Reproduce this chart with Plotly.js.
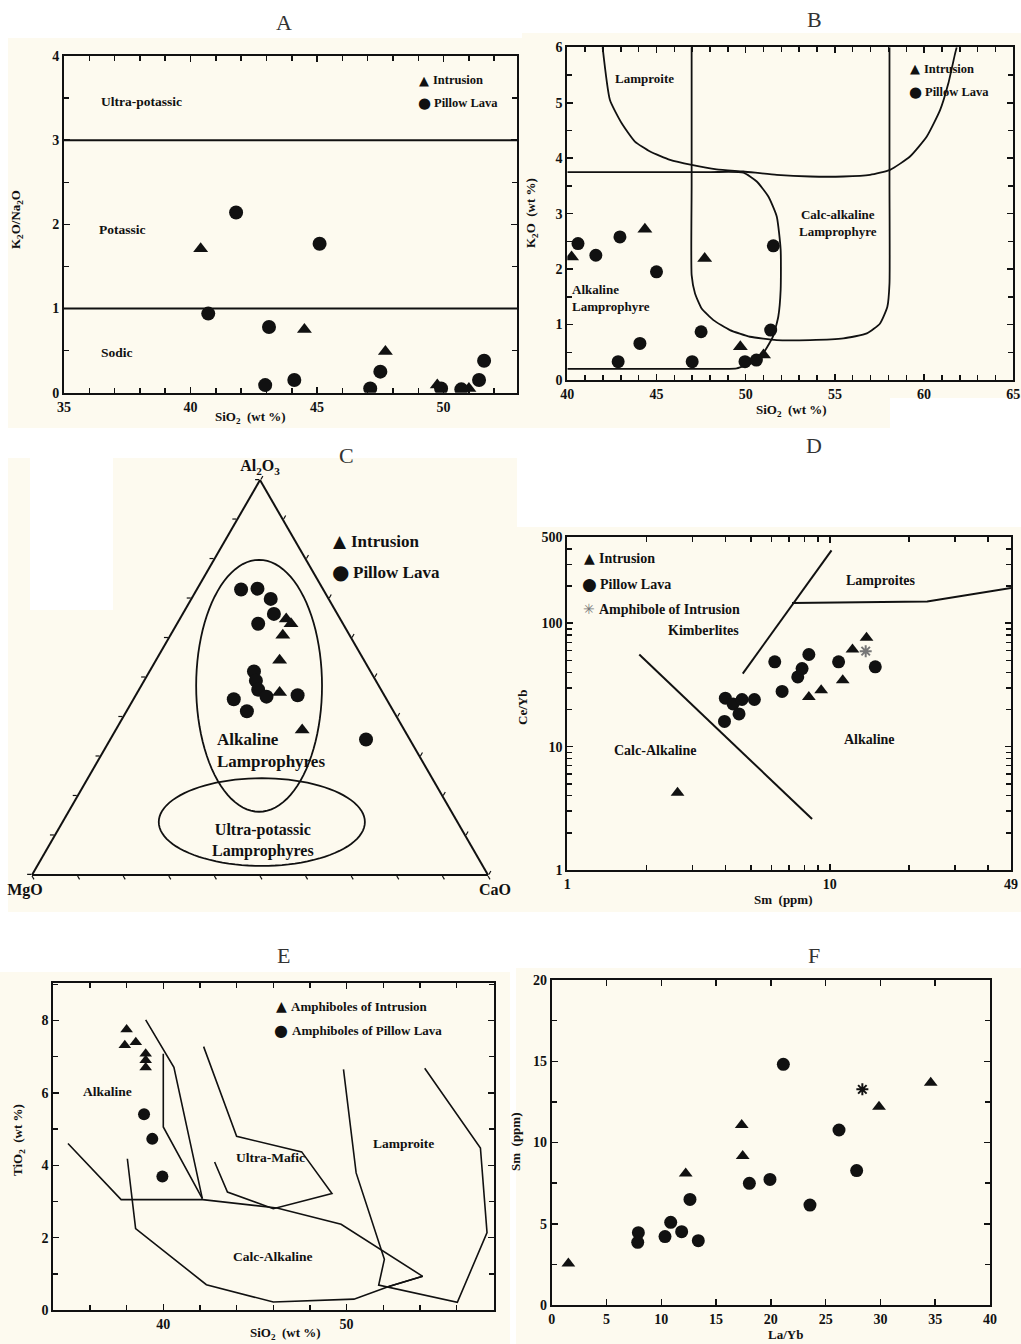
<!DOCTYPE html>
<html><head><meta charset="utf-8">
<script src="https://cdn.plot.ly/plotly-3.0.1.min.js"></script>
<style>html,body{margin:0;padding:0;background:#fff}#chart{width:1021px;height:1344px}</style>
</head><body><div id="chart"></div>
<script>
// ================= DATA =================
// Panel A : K2O/Na2O vs SiO2
const aIntrusionSiO2 = [40.4, 44.5, 47.7, 49.75, 51.0];
const aIntrusionRatio = [1.71, 0.75, 0.49, 0.09, 0.05];
const aLavaSiO2 = [41.8, 40.7, 45.1, 43.1, 42.95, 44.1, 47.1, 47.5, 49.9, 50.7, 51.4, 51.6];
const aLavaRatio = [2.14, 0.94, 1.77, 0.78, 0.09, 0.15, 0.05, 0.25, 0.05, 0.04, 0.15, 0.38];
const aBoundaryRatio = [1, 3];

// Panel B : K2O vs SiO2
const bIntrusionSiO2 = [40.24, 44.35, 47.7, 49.7, 51.0];
const bIntrusionK2O = [2.22, 2.72, 2.19, 0.6, 0.45];
const bLavaSiO2 = [40.6, 41.6, 42.95, 45.0, 42.85, 44.07, 47.0, 47.5, 49.96, 50.6, 51.55, 51.4];
const bLavaK2O = [2.46, 2.25, 2.58, 1.95, 0.33, 0.66, 0.33, 0.87, 0.33, 0.36, 2.42, 0.9];
const bLamproiteSiO2 = [41.98, 42.39, 43.05, 43.79, 44.64, 45.76, 46.97, 48.37, 49.87, 51.74, 53.61, 55.48, 56.97, 58.09, 59.21, 60.15, 60.9, 61.36, 61.74, 61.83];
const bLamproiteK2O = [6.0, 5.05, 4.63, 4.3, 4.12, 3.97, 3.88, 3.8, 3.76, 3.7, 3.67, 3.67, 3.7, 3.79, 4.03, 4.39, 4.87, 5.35, 5.89, 6.0];
const bAlkalineSiO2 = [40.0, 48.0, 49.87, 50.62, 51.27, 51.74, 51.96, 51.96, 51.83, 51.55, 51.08, 50.43, 49.5, 48.75, 40.0];
const bAlkalineK2O = [3.75, 3.75, 3.74, 3.58, 3.31, 2.95, 2.35, 1.63, 1.15, 0.8, 0.53, 0.32, 0.21, 0.2, 0.2];
const bCalcAlkSiO2 = [46.97, 46.97, 46.97, 47.16, 47.53, 48.19, 49.12, 50.24, 51.74, 53.61, 55.48, 56.79, 57.53, 57.94, 58.06, 58.06, 58.06];
const bCalcAlkK2O = [6.0, 3.5, 1.89, 1.56, 1.29, 1.08, 0.9, 0.78, 0.72, 0.72, 0.75, 0.84, 1.02, 1.32, 1.74, 3.5, 6.0];

// Panel C : Al2O3 - MgO - CaO ternary (fractions)
const cIntrusionAl2O3 = [0.648, 0.636, 0.607, 0.544, 0.462, 0.367];
const cIntrusionMgO   = [0.1185, 0.114, 0.1465, 0.185, 0.226, 0.224];
const cIntrusionCaO   = [0.2335, 0.25, 0.2465, 0.271, 0.312, 0.409];
const cLavaAl2O3 = [0.723, 0.725, 0.699, 0.661, 0.636, 0.5155, 0.492, 0.469, 0.4515, 0.455, 0.445, 0.4145, 0.343];
const cLavaMgO   = [0.18, 0.143, 0.127, 0.139, 0.186, 0.2555, 0.263, 0.2695, 0.26, 0.19, 0.335, 0.3215, 0.096];
const cLavaCaO   = [0.097, 0.132, 0.174, 0.2, 0.178, 0.229, 0.245, 0.2615, 0.2885, 0.355, 0.22, 0.264, 0.561];
// field ellipses: [centre across, centre Al2O3, radius across, radius Al2O3]
const cAlkalineField = [0.498, 0.479, 0.138, 0.319];
const cUltraPotassicField = [0.504, 0.134, 0.226, 0.111];

// Panel D : Ce/Yb vs Sm (log-log)
const dIntrusionSm = [2.63, 8.32, 9.27, 11.2, 12.2, 13.8];
const dIntrusionCeYb = [4.23, 25.2, 28.6, 34.5, 61.4, 76.4];
const dLavaSm = [3.97, 4.0, 4.28, 4.51, 4.63, 5.16, 6.17, 6.58, 7.55, 7.84, 8.32, 10.8, 14.9];
const dLavaCeYb = [16.0, 24.7, 22.2, 18.4, 24.1, 24.1, 48.7, 28.0, 36.7, 42.9, 55.8, 48.7, 44.3];
const dAmphSm = [13.7];
const dAmphCeYb = [59.4];
const dCalcAlkSm = [1.88, 8.56];
const dCalcAlkCeYb = [55.8, 2.59];
const dKimberliteSm = [4.66, 10.15];
const dKimberliteCeYb = [39.1, 389];
const dLamproiteSm = [7.18, 23.5, 49];
const dLamproiteCeYb = [145.6, 150, 193];
const dXMajorTicks = [1, 10, 49];
const dXMinorTicks = [2, 3, 4, 5, 6, 7, 8, 9, 20, 30, 40];
const dYMajorTicks = [1, 10, 100, 500];
const dYMinorTicks = [2, 3, 4, 5, 6, 7, 8, 9, 20, 30, 40, 50, 60, 70, 80, 90, 200, 300, 400];

// Panel E : TiO2 vs SiO2 (amphiboles)
const eIntrusionSiO2 = [38.0, 37.9, 38.5, 39.04, 39.04, 39.04];
const eIntrusionTiO2 = [7.75, 7.32, 7.4, 7.08, 6.9, 6.7];
const eLavaSiO2 = [38.95, 39.4, 39.95];
const eLavaTiO2 = [5.41, 4.73, 3.69];
const eAlkBoundSiO2 = [34.8, 37.7, 42.15, 46.2, 49.7, 51.8, 54.15, 52.3];
const eAlkBoundTiO2 = [4.6, 3.05, 3.05, 2.82, 2.37, 1.68, 0.93, 0.65];
const eUltraMaficSiO2 = [42.2, 44.0, 47.55, 49.2, 46.0, 43.5, 42.8];
const eUltraMaficTiO2 = [7.28, 4.8, 4.37, 3.22, 2.8, 3.26, 4.09];
const eCalcAlkSiO2 = [38.04, 38.49, 42.35, 46.0, 50.4, 52.3, 54.15];
const eCalcAlkTiO2 = [4.18, 2.25, 0.7, 0.22, 0.3, 0.65, 0.93];
const eLamproiteSiO2 = [49.83, 50.52, 52.06, 51.75, 56.04, 57.66, 57.3, 54.26];
const eLamproiteTiO2 = [6.65, 3.79, 1.4, 0.69, 0.21, 2.14, 4.48, 6.68];
const eLineOneSiO2 = [39.04, 39.95, 40.58, 42.13];
const eLineOneTiO2 = [8.02, 7.25, 6.71, 3.08];
const eLineTwoSiO2 = [40.0, 40.0, 42.13];
const eLineTwoTiO2 = [7.08, 5.06, 3.08];

// Panel F : Sm vs La/Yb
const fIntrusionLaYb = [1.52, 12.23, 17.34, 17.43, 29.87, 34.59];
const fIntrusionSm = [2.56, 8.1, 11.08, 9.17, 12.2, 13.68];
const fLavaLaYb = [7.91, 7.85, 10.34, 10.86, 11.86, 13.38, 12.62, 18.04, 19.92, 21.14, 23.57, 26.22, 27.83];
const fLavaSm = [4.45, 3.86, 4.21, 5.09, 4.51, 3.96, 6.5, 7.49, 7.73, 14.81, 6.15, 10.77, 8.27];
const fAmphLaYb = [28.35];
const fAmphSm = [13.27];

// ================= STYLE / LAYOUT =================
const W = 1021, H = 1344;
const ink = '#111';
const cream = '#fdfaef';
const serif = 'Liberation Serif, Times New Roman, serif';
const symFont = 'DejaVu Sans, sans-serif';
const px = v => v / W;
const py = v => 1 - v / H;

function pts(x, y, xa, ya, symbol, size, color) {
  const m = {symbol: symbol, size: size, color: color || ink, line: {width: 0}};
  if (symbol.indexOf('open') >= 0) m.line = {width: 2, color: color || ink};
  return {type: 'scatter', mode: 'markers', x: x, y: y, xaxis: xa, yaxis: ya, marker: m, hoverinfo: 'x+y'};
}
function line(x, y, xa, ya, w, shape) {
  return {type: 'scatter', mode: 'lines', x: x, y: y, xaxis: xa, yaxis: ya,
          line: {color: ink, width: w || 1.8, shape: shape || 'linear', smoothing: 0.5}, hoverinfo: 'skip'};
}
function ellipse(p) {
  const a = [], b = [], c = [];
  for (let i = 0; i <= 96; i++) {
    const t = 2 * Math.PI * i / 96;
    const u = p[0] + p[2] * Math.cos(t), av = p[1] + p[3] * Math.sin(t);
    const cv = u - av / 2;
    a.push(av); c.push(cv); b.push(1 - av - cv);
  }
  return {type: 'scatterternary', mode: 'lines', a: a, b: b, c: c, subplot: 'ternary',
          line: {color: ink, width: 1.8}, hoverinfo: 'skip'};
}

const traces = [
  // A
  pts(aIntrusionSiO2, aIntrusionRatio, 'x', 'y', 'triangle-up', 13),
  pts(aLavaSiO2, aLavaRatio, 'x', 'y', 'circle', 14),
  // B
  line(bLamproiteSiO2, bLamproiteK2O, 'x2', 'y2', 1.8, 'spline'),
  line(bAlkalineSiO2, bAlkalineK2O, 'x2', 'y2', 1.8, 'spline'),
  line(bCalcAlkSiO2, bCalcAlkK2O, 'x2', 'y2', 1.8, 'spline'),
  pts(bIntrusionSiO2, bIntrusionK2O, 'x2', 'y2', 'triangle-up', 13),
  pts(bLavaSiO2, bLavaK2O, 'x2', 'y2', 'circle', 13),
  // C
  ellipse(cAlkalineField),
  ellipse(cUltraPotassicField),
  {type: 'scatterternary', mode: 'markers', subplot: 'ternary', a: cLavaAl2O3, b: cLavaMgO, c: cLavaCaO,
   marker: {symbol: 'circle', size: 14, color: ink}},
  {type: 'scatterternary', mode: 'markers', subplot: 'ternary', a: cIntrusionAl2O3, b: cIntrusionMgO, c: cIntrusionCaO,
   marker: {symbol: 'triangle-up', size: 13, color: ink}},
  // D
  line(dCalcAlkSm, dCalcAlkCeYb, 'x3', 'y3', 2),
  line(dKimberliteSm, dKimberliteCeYb, 'x3', 'y3', 2),
  line(dLamproiteSm, dLamproiteCeYb, 'x3', 'y3', 2),
  pts(dIntrusionSm, dIntrusionCeYb, 'x3', 'y3', 'triangle-up', 12),
  pts(dLavaSm, dLavaCeYb, 'x3', 'y3', 'circle', 13),
  pts(dAmphSm, dAmphCeYb, 'x3', 'y3', 'asterisk-open', 10, '#777'),
  // E
  line(eAlkBoundSiO2, eAlkBoundTiO2, 'x4', 'y4', 1.6),
  line(eUltraMaficSiO2, eUltraMaficTiO2, 'x4', 'y4', 1.6),
  line(eCalcAlkSiO2, eCalcAlkTiO2, 'x4', 'y4', 1.6),
  line(eLamproiteSiO2, eLamproiteTiO2, 'x4', 'y4', 1.6),
  line(eLineOneSiO2, eLineOneTiO2, 'x4', 'y4', 1.6),
  line(eLineTwoSiO2, eLineTwoTiO2, 'x4', 'y4', 1.6),
  pts(eIntrusionSiO2, eIntrusionTiO2, 'x4', 'y4', 'triangle-up', 11),
  pts(eLavaSiO2, eLavaTiO2, 'x4', 'y4', 'circle', 12),
  // F
  pts(fIntrusionLaYb, fIntrusionSm, 'x5', 'y5', 'triangle-up', 12),
  pts(fLavaLaYb, fLavaSm, 'x5', 'y5', 'circle', 13),
  pts(fAmphLaYb, fAmphSm, 'x5', 'y5', 'asterisk-open', 10, ink)
];

const tickFont = {family: serif, size: 14, color: ink, weight: 'bold'};
function axis(domainPx, isX, extra) {
  const d = isX ? [px(domainPx[0]), px(domainPx[1])] : [py(domainPx[1]), py(domainPx[0])];
  return Object.assign({
    domain: d, showline: true, linecolor: ink, linewidth: 2, mirror: 'allticks',
    ticks: 'inside', ticklen: 6, tickwidth: 1.5, tickcolor: ink, showgrid: false, zeroline: false,
    tickfont: tickFont, fixedrange: true
  }, extra);
}
const minor = dt => ({dtick: dt, ticks: 'inside', ticklen: 5, tickwidth: 1.5, tickcolor: ink, showgrid: false});
const minorArr = vals => ({tickmode: 'array', tickvals: vals, ticks: 'inside', ticklen: 5, tickwidth: 1.5, tickcolor: ink, showgrid: false});

function note(text, x, y, size, opts) {
  return Object.assign({xref: 'paper', yref: 'paper', x: px(x), y: py(y), text: text, showarrow: false,
    xanchor: 'center', yanchor: 'middle', font: {family: serif, size: size, color: ink, weight: 'bold'}}, opts || {});
}
function dnote(text, xr, yr, x, y, size, opts) {
  return Object.assign({xref: xr, yref: yr, x: x, y: y, text: text, showarrow: false,
    xanchor: 'center', yanchor: 'middle', font: {family: serif, size: size, color: ink, weight: 'bold'}}, opts || {});
}
const letter = (t, x, y) => note(t, x, y, 22, {font: {family: serif, size: 22, color: '#333', weight: 'normal'}});
// legend entry: glyph annotation + label annotation
function lg(sym, t, x, y, size, symSize, symColor) {
  return [
    note(sym, x, y, symSize, {font: {family: symFont, size: symSize, color: symColor || ink}}),
    note(t, x + symSize * 0.55, y, size, {xanchor: 'left'})
  ];
}
const rot = {textangle: -90};

const annotations = [].concat(
  letter('A', 284, 23), letter('B', 814, 20), letter('C', 346, 455),
  letter('D', 814, 445), letter('E', 283, 955), letter('F', 814, 955),
  // A
  dnote('Ultra-potassic', 'x', 'y', 38.05, 3.46, 13.5),
  dnote('Potassic', 'x', 'y', 37.3, 1.94, 13.5),
  dnote('Sodic', 'x', 'y', 37.1, 0.48, 13.5),
  lg('▲', 'Intrusion', 424, 80, 12.5, 13),
  lg('●', 'Pillow Lava', 424, 103, 12.5, 15),
  note('SiO<sub>2</sub>  (wt %)', 250, 417, 13),
  note('K<sub>2</sub>O/Na<sub>2</sub>O', 17, 220, 13, rot),
  // B
  dnote('Lamproite', 'x2', 'y2', 44.3, 5.43, 13),
  dnote('Calc-alkaline<br>Lamprophyre', 'x2', 'y2', 55.2, 2.84, 13),
  dnote('Alkaline<br>Lamprophyre', 'x2', 'y2', 40.15, 1.47, 13, {xanchor: 'left', align: 'left'}),
  lg('▲', 'Intrusion', 915, 69, 12.5, 13),
  lg('●', 'Pillow Lava', 915, 92, 12.5, 15),
  note('SiO<sub>2</sub>  (wt %)', 791, 411, 13),
  note('K<sub>2</sub>O  (wt %)', 532, 213, 13, rot),
  // C
  lg('▲', 'Intrusion', 340, 541, 17, 17),
  lg('●', 'Pillow Lava', 340, 572, 17, 20),
  note('Alkaline<br>Lamprophyres', 215, 750, 17, {xanchor: 'left', align: 'left'}),
  note('Ultra-potassic<br>Lamprophyres', 263, 840, 16),
  // D
  dnote('Lamproites', 'x3', 'y3', Math.log10(15.6), Math.log10(220), 14),
  dnote('Kimberlites', 'x3', 'y3', Math.log10(3.29), Math.log10(88), 14),
  dnote('Calc-Alkaline', 'x3', 'y3', Math.log10(2.16), Math.log10(9.25), 14),
  dnote('Alkaline', 'x3', 'y3', Math.log10(14.2), Math.log10(11.4), 14),
  lg('▲', 'Intrusion', 589, 558, 14, 14),
  lg('●', 'Pillow Lava', 589, 584, 14, 17),
  lg('✳', 'Amphibole of Intrusion', 589, 609, 14, 14, '#777'),
  note('Sm  (ppm)', 783, 900, 13),
  note('Ce/Yb', 522, 708, 13, rot),
  // E
  dnote('Alkaline', 'x4', 'y4', 36.95, 6.05, 13.5),
  dnote('Ultra-Mafic', 'x4', 'y4', 45.86, 4.21, 13.5),
  dnote('Lamproite', 'x4', 'y4', 53.09, 4.61, 13.5),
  dnote('Calc-Alkaline', 'x4', 'y4', 46.0, 1.47, 13.5),
  lg('▲', 'Amphiboles of Intrusion', 281, 1006, 13, 14),
  lg('●', 'Amphiboles of Pillow Lava', 281, 1030, 13, 16),
  note('SiO<sub>2</sub>  (wt %)', 285, 1333, 13),
  note('TiO<sub>2</sub>  (wt %)', 18, 1140, 13, rot),
  // F
  note('La/Yb', 785, 1334, 13),
  note('Sm  (ppm)', 515, 1142, 13, rot)
);

const rect = (x0, y0, x1, y1, color) => ({type: 'rect', xref: 'paper', yref: 'paper', x0: px(x0), x1: px(x1),
  y0: py(y1), y1: py(y0), fillcolor: color, line: {width: 0}, layer: 'below'});
const shapes = [
  rect(8, 38, 522, 428, cream),
  rect(522, 33, 1021, 428, cream),
  rect(890, 398, 1021, 430, '#ffffff'),
  rect(8, 458, 517, 912, cream),
  rect(30, 458, 113, 610, '#ffffff'),
  rect(517, 527, 1021, 912, cream),
  rect(0, 972, 510, 1344, cream),
  rect(516, 968, 1021, 1344, cream)
].concat(aBoundaryRatio.map(v => ({type: 'line', xref: 'x domain', yref: 'y', x0: 0, x1: 1, y0: v, y1: v,
  line: {color: ink, width: 2}})));

const ternAxis = (t) => ({title: {text: t, font: {family: serif, size: 16, color: ink, weight: 'bold'}},
  min: 0, showgrid: false, showline: true, linecolor: ink, linewidth: 2, ticks: 'outside', ticklen: 4,
  tickwidth: 1.2, tickcolor: ink, dtick: 0.1, showticklabels: false});

const layout = {
  width: W, height: H, margin: {l: 0, r: 0, t: 0, b: 0},
  paper_bgcolor: '#ffffff', plot_bgcolor: cream, showlegend: false, hovermode: false,
  font: {family: serif, color: ink},
  xaxis: axis([64, 517], true, {range: [35, 52.9], dtick: 5, tick0: 35, minor: minor(1)}),
  yaxis: axis([56, 392.7], false, {range: [0, 4], dtick: 1, minor: minor(0.5)}),
  xaxis2: axis([567.3, 1013.3], true, {range: [40, 65], dtick: 5, tick0: 40, minor: minor(1), anchor: 'y2'}),
  yaxis2: axis([47.3, 380], false, {range: [0, 6], dtick: 1, minor: minor(0.5), anchor: 'x2'}),
  xaxis3: axis([567.3, 1011], true, {type: 'log', range: [0, Math.log10(49)], tickmode: 'array', tickvals: dXMajorTicks, ticktext: dXMajorTicks.map(String), minor: minorArr(dXMinorTicks), anchor: 'y3'}),
  yaxis3: axis([537, 870], false, {type: 'log', range: [0, Math.log10(500)], tickmode: 'array', tickvals: dYMajorTicks, ticktext: dYMajorTicks.map(String), minor: minorArr(dYMinorTicks), anchor: 'x3'}),
  xaxis4: axis([53.3, 494], true, {range: [34, 58.04], dtick: 10, tick0: 40, minor: minor(2), anchor: 'y4'}),
  yaxis4: axis([983.3, 1310], false, {range: [0, 9.03], dtick: 2, minor: minor(1), anchor: 'x4'}),
  xaxis5: axis([551.7, 990], true, {range: [0, 40], dtick: 5, anchor: 'y5'}),
  yaxis5: axis([980, 1305], false, {range: [0, 20], dtick: 5, minor: minor(2.5), anchor: 'x5'}),
  ternary: {
    sum: 1, domain: {x: [px(32), px(488)], y: [py(875), py(480)]}, bgcolor: 'rgba(0,0,0,0)',
    aaxis: ternAxis('Al<sub>2</sub>O<sub>3</sub>'), baxis: ternAxis('MgO'), caxis: ternAxis('CaO')
  },
  annotations: annotations,
  shapes: shapes
};

Plotly.newPlot('chart', traces, layout, {staticPlot: true, displayModeBar: false});
</script></body></html>
